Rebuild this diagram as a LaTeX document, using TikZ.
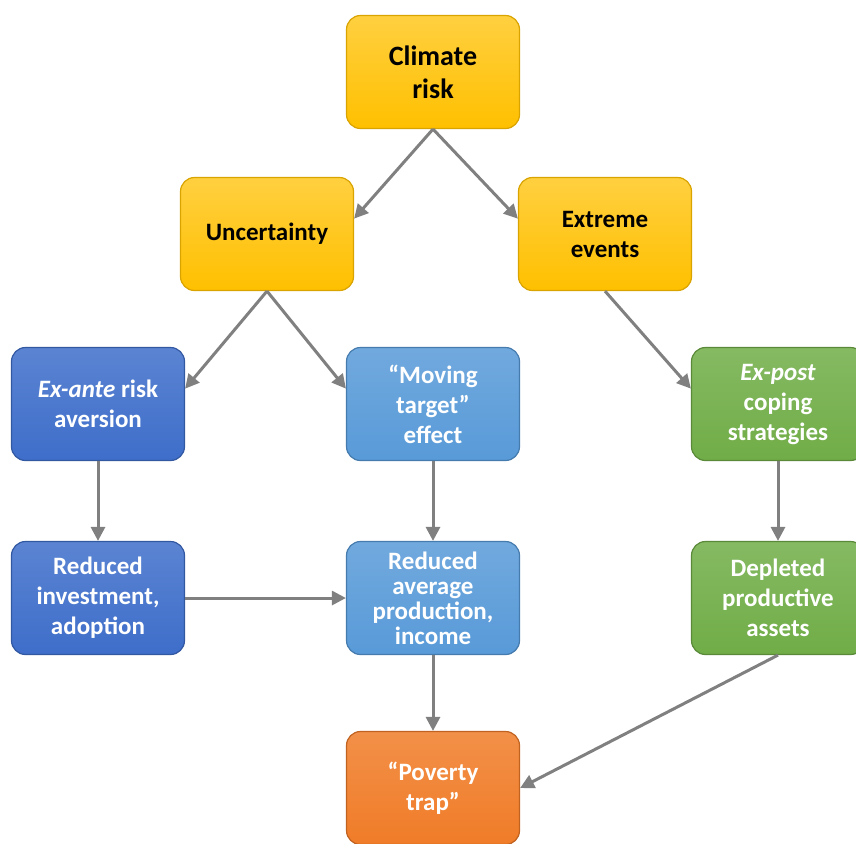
\documentclass[tikz,border=0pt]{standalone}
\usepackage{fontspec}
\setmainfont{Carlito}
\usetikzlibrary{arrows.meta,positioning}
\definecolor{cyel}{RGB}{255,192,0}
\definecolor{cdblue}{RGB}{62,110,202}
\definecolor{clblue}{RGB}{88,154,216}
\definecolor{cgreen}{RGB}{112,173,71}
\definecolor{corange}{RGB}{240,124,40}
\definecolor{carrow}{RGB}{128,128,128}
\tikzset{
  box/.style={rounded corners=7pt, minimum width=86.5pt, minimum height=56.5pt,
              align=center, font=\fontsize{12.5}{15}\selectfont\bfseries, line width=0.6pt},
  ybox/.style={box, draw=cyel!85!black, top color=cyel!75!white, bottom color=cyel, text=black},
  dbox/.style={box, draw=cdblue!80!black, top color=cdblue!85!white, bottom color=cdblue, text=white},
  lbox/.style={box, draw=clblue!80!black, top color=clblue!85!white, bottom color=clblue, text=white},
  gbox/.style={box, draw=cgreen!80!black, top color=cgreen!85!white, bottom color=cgreen, text=white},
  obox/.style={box, draw=corange!80!black, top color=corange!85!white, bottom color=corange, text=white},
  arr/.style={-{Triangle[length=7pt, width=7pt]}, carrow, line width=1.5pt},
}
\begin{document}
\begin{tikzpicture}[x=0.5pt, y=0.5pt]
  \useasboundingbox (0,0) rectangle (856,-843);
  % top level
  \node[ybox, font=\fontsize{14}{16.5}\selectfont\bfseries] (clim) at (433,-72) {Climate\\risk};
  \node[ybox] (unc) at (267,-234) {Uncertainty};
  \node[ybox] (ext) at (605,-234) {Extreme\\events};
  % channels
  \node[dbox] (exa) at (98,-404) {\textit{Ex-ante} risk\\aversion};
  \node[lbox] (mov) at (433,-404) {“Moving\\target”\\effect};
  \node[gbox] (exp) at (778,-404) {\textit{Ex-post}\\coping\\strategies};
  \node[dbox] (red) at (98,-598) {Reduced\\investment,\\adoption};
  \node[lbox, font=\fontsize{12.5}{12.5}\selectfont\bfseries] (avg) at (433,-598) {Reduced\\average\\production,\\income};
  \node[gbox] (dep) at (778,-598) {Depleted\\productive\\assets};
  \node[obox] (pov) at (433,-788) {“Poverty\\trap”};
  % connectors
  \draw[arr] (clim.south) -- (unc.10);
  \draw[arr] (clim.south) -- (ext.170);
  \draw[arr] (unc.south) -- (exa.10);
  \draw[arr] (unc.south) -- (mov.170);
  \draw[arr] (ext.south) -- (exp.170);
  \draw[arr] (exa.south) -- (red.north);
  \draw[arr] (mov.south) -- (avg.north);
  \draw[arr] (exp.south) -- (dep.north);
  \draw[arr] (red.east) -- (avg.west);
  \draw[arr] (avg.south) -- (pov.north);
  \draw[arr] (dep.south) -- (pov.east);
\end{tikzpicture}
\end{document}
